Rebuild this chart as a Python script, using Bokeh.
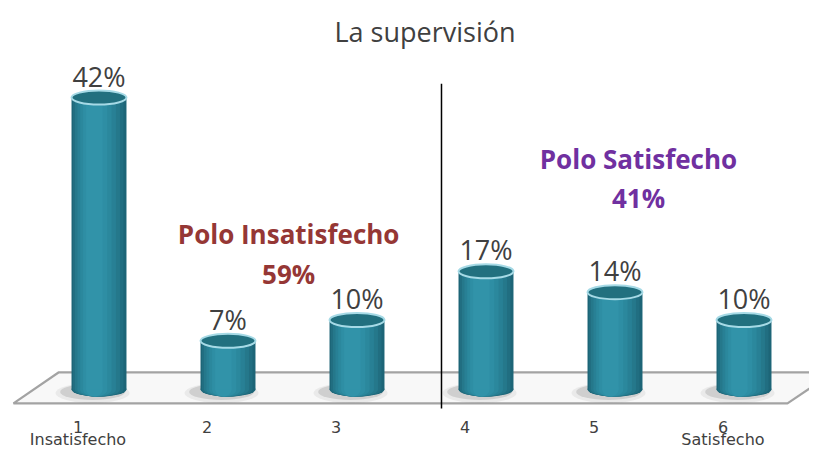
from bokeh.plotting import figure
from bokeh.models import ColumnDataSource, Range1d
from bokeh.core.properties import value
from bokeh.embed import file_html
from bokeh.resources import INLINE

# ---- data ----
categories = [1, 2, 3, 4, 5, 6]
percent = [42, 7, 10, 17, 14, 10]
value_labels = ["42%", "7%", "10%", "17%", "14%", "10%"]
tick_labels = ["1", "2", "3", "4", "5", "6"]
end_labels = ["Insatisfecho", "", "", "", "", "Satisfecho"]
title_text = "La supervisión"
pole_names = ["Polo Insatisfecho", "Polo Satisfecho"]
pole_totals = ["59%", "41%"]
pole_colors = ["#953735", "#7030A0"]

# ---- layout constants ----
W, H = 809, 449
PX_X, PX_Y = 129.0, 6.95          # pixels per category / per percent
X0 = 1 - 98.5 / PX_X
X1 = X0 + W / PX_X
Y0 = -(H - 389) / PX_Y
Y1 = Y0 + H / PX_Y
BAR_W = 0.426
ELL_H = 14
DEPTH = 0.163          # 3-D perspective shift of category labels

p = figure(width=W, height=H, output_backend="svg", toolbar_location=None,
           x_range=Range1d(X0, X1), y_range=Range1d(Y0, Y1),
           min_border=0, x_axis_location=None, y_axis_location=None,
           background_fill_color="white", border_fill_color="white")
p.outline_line_color = None
p.grid.visible = False

# floor (3-D plane)
floor_front, floor_back = -2.0, 2.45
fl = categories[0] - 0.663
fr = categories[-1] + 0.337
p.patch([fl, fr, fr + 0.357, fl + 0.349], [floor_front, floor_front, floor_back, floor_back],
        fill_color="#F8F8F8", line_color="#A3A3A3", line_width=2.2)

src = ColumnDataSource(dict(x=categories, top=percent, lab=value_labels,
                            laby=[v + 3.1 for v in percent]))

# soft shadows
xs_sh = [c - 0.05 for c in categories]
p.ellipse(x=xs_sh, y=[-0.5] * 6, width=BAR_W * 1.35, height=20, height_units="screen",
          fill_color="#8a8a8a", fill_alpha=0.12, line_color=None)
p.ellipse(x=xs_sh, y=[-0.35] * 6, width=BAR_W * 1.18, height=16, height_units="screen",
          fill_color="#707070", fill_alpha=0.22, line_color=None)

# cylinder bodies (layered for smooth shading)
layers = [(1.00, 0.000, "#1D6577"), (0.92, -0.006, "#216E81"),
          (0.82, -0.012, "#25788B"), (0.70, -0.018, "#288095"),
          (0.57, -0.024, "#2B889D"), (0.44, -0.030, "#2E8EA4"),
          (0.30, -0.036, "#3193A9")]
for frac, dx, col in layers:
    xs = [c + dx for c in categories]
    w = BAR_W * frac
    p.ellipse(x=xs, y=[0] * 6, width=w, height=ELL_H, height_units="screen",
              fill_color=col, line_color=None)
    p.vbar(x=xs, bottom=0, top=percent, width=w, fill_color=col, line_color=None)

# cylinder tops
p.ellipse(x="x", y="top", source=src, width=BAR_W, height=ELL_H, height_units="screen",
          fill_color="#22707F", line_color="#A6DAE6", line_width=2.0)

# divider between poles
div_x = (categories[2] + categories[3]) / 2 + DEPTH - 0.008
p.segment(x0=[div_x], y0=[-2.73], x1=[div_x], y1=[44.0], line_color="black", line_width=1.5)

# value labels
p.text(x="x", y="laby", text="lab", source=src, text_font=value("Open Sans"),
       text_font_size="27px", text_align="center", text_baseline="middle",
       text_color="#404040")

# category labels
xl = [c - DEPTH for c in categories]
p.text(x=xl, y=[(389 - 426) / PX_Y] * 6, text=tick_labels, text_font=value("DejaVu Sans"),
       text_font_size="16px", text_align="center", text_baseline="middle",
       text_color="#404040")
p.text(x=xl, y=[Y0 + 0.05] * 6, text=end_labels, text_font=value("DejaVu Sans"),
       text_font_size="16px", text_align="center", text_baseline="bottom",
       text_color="#404040")

# title
p.text(x=[3.527], y=[(389 - 31) / PX_Y], text=[title_text], text_font=value("Open Sans"),
       text_font_size="27px", text_align="center", text_baseline="middle",
       text_color="#404040")

# pole annotations
pole_x = [2.47, 5.182]
pole_y = [(389 - 233) / PX_Y, (389 - 158) / PX_Y]
total_y = [(389 - 273) / PX_Y, (389 - 197) / PX_Y]
p.text(x=pole_x, y=pole_y, text=pole_names, text_font=value("Open Sans"),
       text_font_style="bold", text_font_size="26px", text_align="center",
       text_baseline="middle", text_color=pole_colors)
p.text(x=pole_x, y=total_y, text=pole_totals, text_font=value("Open Sans"),
       text_font_style="bold", text_font_size="26px", text_align="center",
       text_baseline="middle", text_color=pole_colors)

open("out.html", "w").write(file_html(p, INLINE))
